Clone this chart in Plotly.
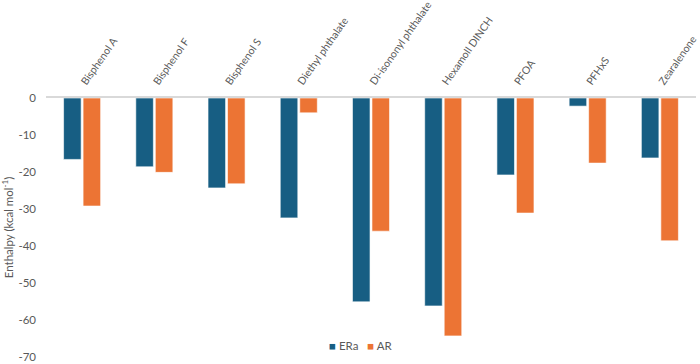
import plotly.graph_objects as go

categories = ["Bisphenol A", "Bisphenol F", "Bisphenol S", "Diethyl phthalate",
              "Di-isononyl phthalate", "Hexamoll DINCH", "PFOA", "PFHxS", "Zearalenone"]
era = [-16.6, -18.6, -24.3, -32.4, -55.1, -56.2, -20.8, -2.2, -16.2]
ar = [-29.2, -20.1, -23.2, -4.0, -36.0, -64.3, -31.1, -17.6, -38.6]
y_ticks = [0, -10, -20, -30, -40, -50, -60, -70]
series_names = ["ERa", "AR"]
colors = ["#175E83", "#EC7434"]

fig = go.Figure()
for name, vals, col in zip(series_names, [era, ar], colors):
    fig.add_trace(go.Bar(name=name, x=categories, y=vals, marker_color=col,
                         marker_line=dict(color="white", width=0.6), showlegend=False))

legend_text = "   ".join(
    f"<span style='color:{c}'>■</span> {n}" for n, c in zip(series_names, colors))
fig.add_annotation(text=legend_text, xref="paper", yref="paper", x=0.485, y=0.045,
                   xanchor="center", yanchor="middle", showarrow=False,
                   font=dict(size=11.5, color="#595959"))

fig.update_layout(
    width=700, height=364,
    margin=dict(l=46, r=4, t=98, b=7),
    paper_bgcolor="white", plot_bgcolor="white",
    barmode="group", bargap=0.46, bargroupgap=0.1,
    font=dict(family="Lato", size=11.5, color="#595959"),
)
fig.update_xaxes(side="top", tickangle=-55, showline=True, linecolor="#d9d9d9",
                 linewidth=1.5, showgrid=False, ticks="", tickfont=dict(size=10.5),
                 automargin=False, ticklabelstandoff=4)
fig.update_yaxes(range=[-70, 0], tickvals=y_ticks, ticktext=[str(v) for v in y_ticks],
                 showgrid=False, zeroline=False, showline=False, ticks="",
                 tickfont=dict(size=11.5), automargin=False, ticklabelstandoff=9,
                 title=dict(text="Enthalpy (kcal mol<sup>-1</sup>)", font=dict(size=11.5),
                            standoff=4))

fig.write_html("out.html")
